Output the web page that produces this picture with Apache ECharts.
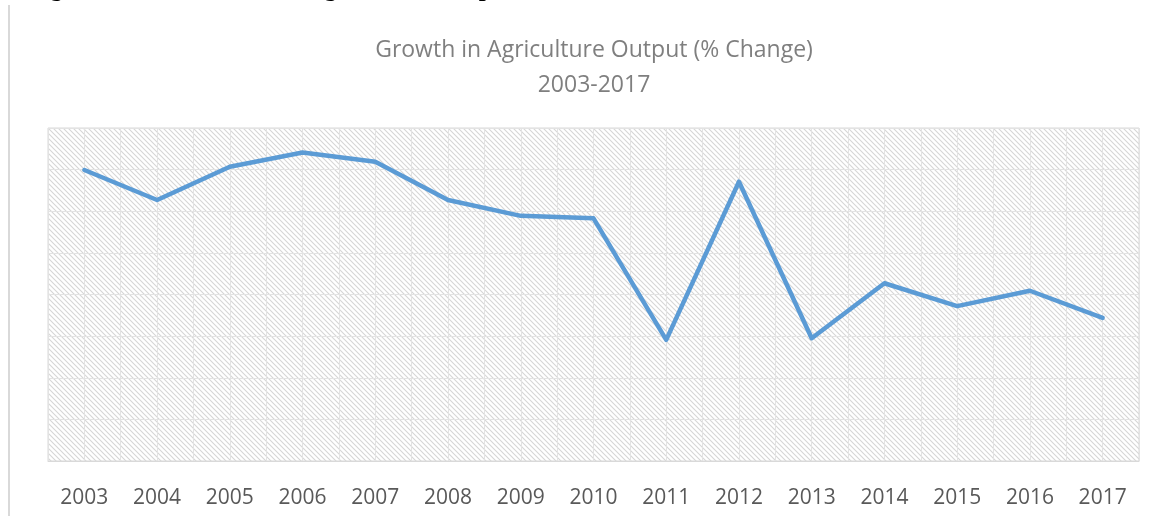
<!DOCTYPE html>
<html>
<head>
<meta charset="utf-8">
<script src="https://cdn.jsdelivr.net/npm/echarts@6/dist/echarts.min.js"></script>
<style>
html,body{margin:0;padding:0;background:#fff;}
#chart{width:1154px;height:516px;}
</style>
</head>
<body>
<div id="chart"></div>
<script>
// ---- data ----
var years = [2003, 2004, 2005, 2006, 2007, 2008, 2009, 2010, 2011, 2012, 2013, 2014, 2015, 2016, 2017];
var growth = [6.99, 6.27, 7.07, 7.41, 7.19, 6.27, 5.89, 5.83, 2.91, 6.71, 2.95, 4.27, 3.72, 4.09, 3.44];
var titleLines = ['Growth in Agriculture Output (% Change)', '2003-2017'];
var captionText = 'Figure 4.1: Growth in the Agriculture Output, 2003-2017';

// hatch pattern
var tile = document.createElement('canvas');
tile.width = 5; tile.height = 5;
var c = tile.getContext('2d');
c.fillStyle = '#ffffff';
c.fillRect(0, 0, 5, 5);
c.strokeStyle = '#d6d6d6';
c.lineWidth = 1.1;
c.beginPath();
c.moveTo(-1, -1); c.lineTo(6, 6);
c.moveTo(4, -1); c.lineTo(6, 1);
c.moveTo(-1, 4); c.lineTo(1, 6);
c.stroke();

var seriesData = years.map(function (y, i) { return [y, growth[i]]; });

var chart = echarts.init(document.getElementById('chart'), null, {renderer: 'canvas'});
chart.setOption({
  animation: false,
  backgroundColor: '#ffffff',
  grid: {
    left: 48, right: 15, top: 128, bottom: 55,
    show: true,
    backgroundColor: {image: tile, repeat: 'repeat'},
    borderColor: '#d9d9d9',
    borderWidth: 1
  },
  graphic: [
    {type: 'line', shape: {x1: 9, y1: 5, x2: 9, y2: 516}, style: {stroke: '#d9d9d9', lineWidth: 2}},
    {type: 'text', x: 594, y: 50, style: {text: titleLines[0], textAlign: 'center', textVerticalAlign: 'middle', font: '23px "Open Sans"', fill: '#7f7f7f'}},
    {type: 'text', x: 594, y: 85, style: {text: titleLines[1], textAlign: 'center', textVerticalAlign: 'middle', font: '23px "Open Sans"', fill: '#7f7f7f'}},
    {type: 'text', x: 28, y: 2, style: {text: captionText, textAlign: 'left', textVerticalAlign: 'bottom', font: 'bold 25px "Liberation Serif"', fill: '#000000'}}
  ],
  xAxis: {
    type: 'value',
    min: 2002.5, max: 2017.5, interval: 0.5,
    axisLine: {show: true, lineStyle: {color: '#d9d9d9', width: 1}},
    axisTick: {show: false},
    splitLine: {show: true, lineStyle: {color: '#e3e3e3', width: 1}},
    axisLabel: {
      margin: 27,
      color: '#595959',
      fontFamily: 'Open Sans',
      fontSize: 21,
      formatter: function (v) { return (Math.abs(v - Math.round(v)) < 1e-6) ? String(Math.round(v)) : ''; }
    }
  },
  yAxis: {
    type: 'value',
    min: 0, max: 8, interval: 1,
    axisLine: {show: false},
    axisTick: {show: false},
    axisLabel: {show: false},
    splitLine: {show: true, lineStyle: {color: '#e3e3e3', width: 1}}
  },
  series: [{
    type: 'line',
    data: seriesData,
    showSymbol: false,
    symbol: 'none',
    lineStyle: {color: '#5b9bd5', width: 4.5, join: 'round', cap: 'round'}
  }]
});
</script>
</body>
</html>
